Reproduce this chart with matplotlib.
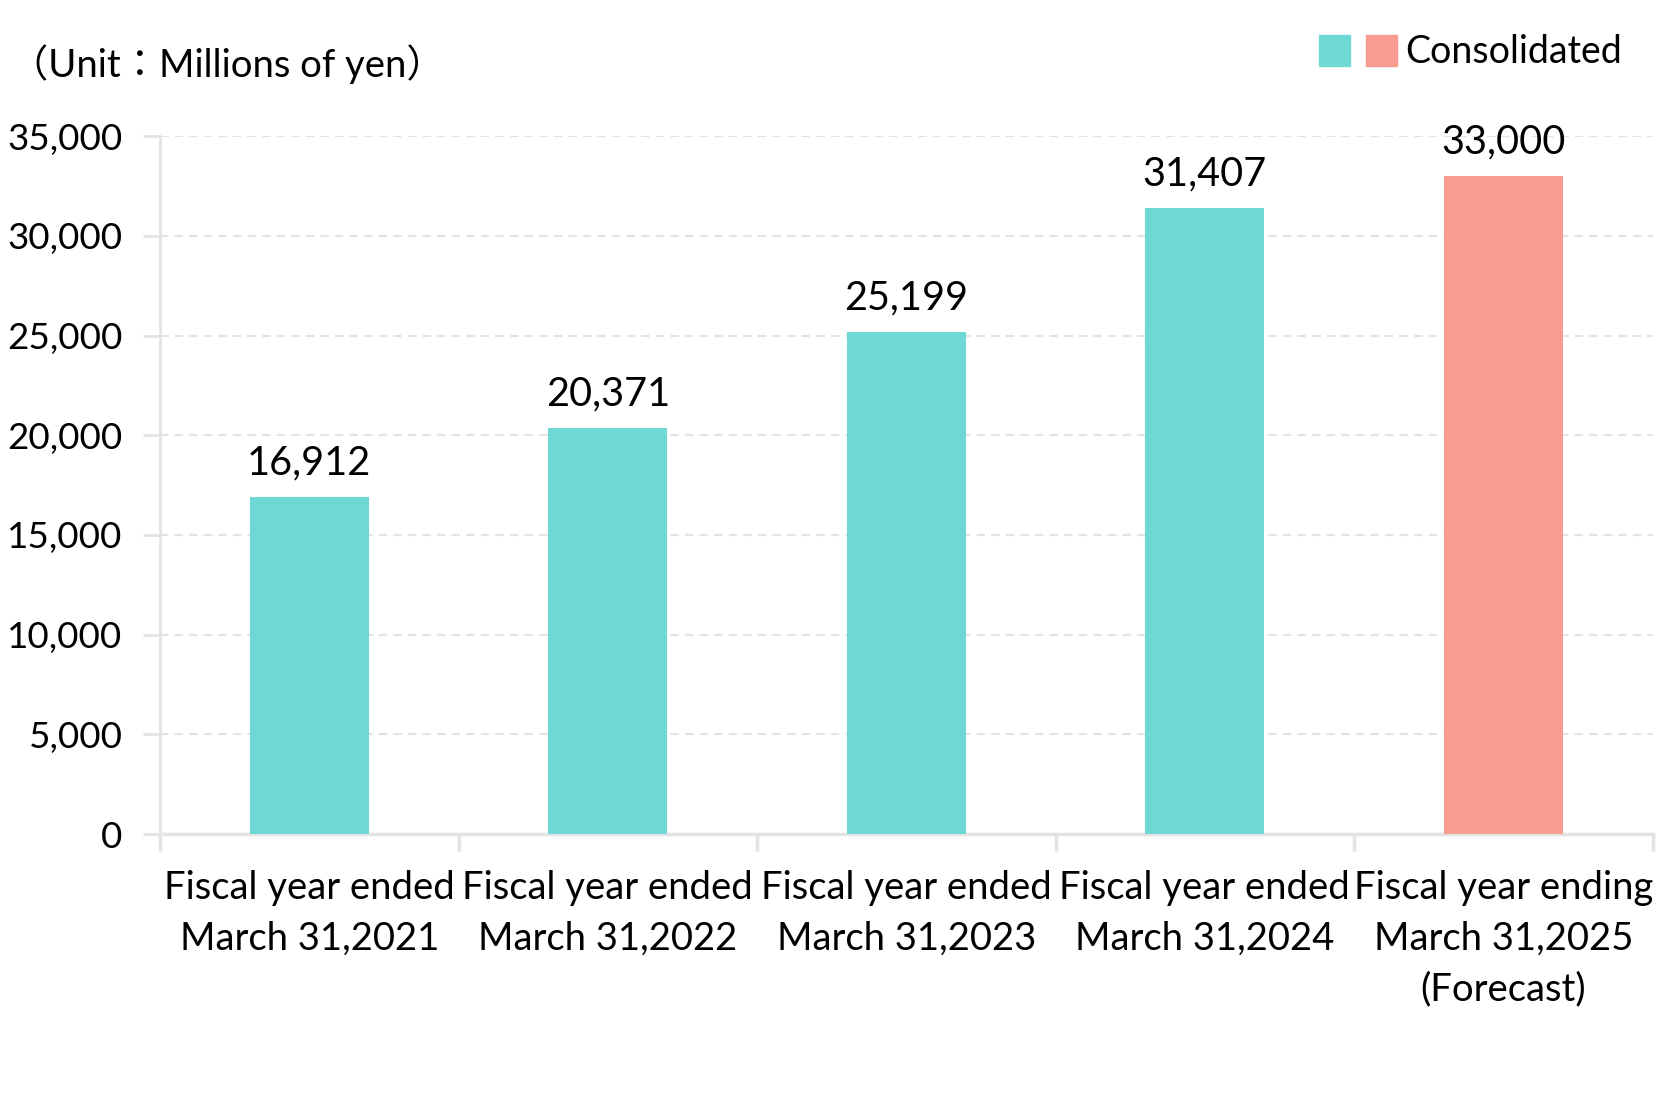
import matplotlib.pyplot as plt
from matplotlib.patches import Patch
from matplotlib.legend_handler import HandlerTuple

categories = [
    "Fiscal year ended\nMarch 31,2021",
    "Fiscal year ended\nMarch 31,2022",
    "Fiscal year ended\nMarch 31,2023",
    "Fiscal year ended\nMarch 31,2024",
    "Fiscal year ending\nMarch 31,2025\n(Forecast)",
]
values = [16912, 20371, 25199, 31407, 33000]
is_forecast = [False, False, False, False, True]
yticks = [0, 5000, 10000, 15000, 20000, 25000, 30000, 35000]

teal = "#6ED8D4"
salmon = "#F89C90"
grid_c = "#E3E3E3"

plt.rcParams['font.family'] = ['Lato', 'Noto Sans CJK JP', 'DejaVu Sans']

fig = plt.figure(figsize=(16.62, 11.07), dpi=100)
ax = fig.add_axes([0.0963, 0.2466, 0.898, 0.6304])

x = list(range(len(values)))
colors = [salmon if f else teal for f in is_forecast]
bars = ax.bar(x, values, width=0.4, color=colors, zorder=3)

for xi, v in zip(x, values):
    ax.annotate(f"{v:,}", (xi, v), xytext=(0, 11), textcoords="offset points",
                ha="center", va="bottom", fontsize=28.5)

ax.set_xlim(-0.5, len(values) - 0.5)
ax.set_ylim(0, 35000)
ax.set_yticks(yticks)
ax.set_yticklabels([f"{t:,}" for t in yticks], fontsize=26.5)
ax.tick_params(axis="y", length=12, color=grid_c, width=2, pad=15)

# category labels centred, tick marks at boundaries
ax.set_xticks(x)
ax.set_xticklabels(categories, fontsize=27.5, linespacing=1.5)
ax.tick_params(axis="x", length=0, pad=26)
ax.set_xticks([i - 0.5 for i in range(len(values) + 1)], minor=True)
ax.tick_params(axis="x", which="minor", length=12, color=grid_c, width=2.5)

ax.yaxis.grid(True, linestyle=(0, (4, 3)), color=grid_c, linewidth=1.5, zorder=0)
for s in ["top", "right"]:
    ax.spines[s].set_visible(False)
ax.spines["left"].set_color(grid_c)
ax.spines["left"].set_linewidth(2)
ax.spines["bottom"].set_color(grid_c)
ax.spines["bottom"].set_linewidth(2.5)

fig.text(0.006, 0.942, "（Unit：Millions of yen）", fontsize=27.5, va="center", ha="left")

h = (Patch(color=teal), Patch(color=salmon))
fig.legend([h], ["Consolidated"], handler_map={tuple: HandlerTuple(ndivide=None, pad=0.45)},
           loc="center right", bbox_to_anchor=(0.996, 0.953), frameon=False, fontsize=27,
           handlelength=2.1, handleheight=0.9, handletextpad=0.2)

fig.savefig("out.png", dpi=100)
